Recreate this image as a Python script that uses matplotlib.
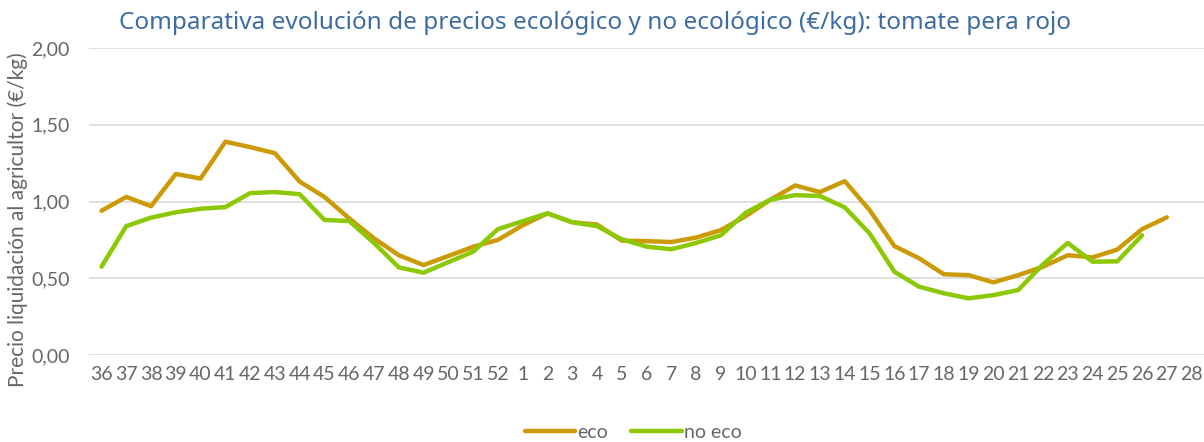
import matplotlib
matplotlib.use("Agg")
import matplotlib.pyplot as plt
from matplotlib.ticker import FuncFormatter, MultipleLocator

weeks = [str(w) for w in list(range(36, 53)) + list(range(1, 29))]

eco = [0.94, 1.03, 0.97, 1.18, 1.15, 1.39, 1.355, 1.315, 1.13, 1.03, 0.89, 0.76,
       0.65, 0.586, 0.645, 0.705, 0.75, 0.845, 0.923, 0.865, 0.85, 0.745, 0.742, 0.736,
       0.765, 0.814, 0.905, 1.012, 1.105, 1.062, 1.133, 0.945, 0.71, 0.63, 0.526,
       0.52, 0.473, 0.52, 0.575, 0.65, 0.636, 0.687, 0.82, 0.897]

no_eco = [0.575, 0.84, 0.895, 0.93, 0.953, 0.964, 1.055, 1.062, 1.048, 0.88, 0.873, 0.73,
          0.571, 0.536, 0.605, 0.673, 0.82, 0.872, 0.923, 0.865, 0.84, 0.754, 0.706, 0.689,
          0.73, 0.78, 0.927, 1.012, 1.042, 1.036, 0.962, 0.793, 0.543, 0.445, 0.402,
          0.369, 0.39, 0.423, 0.59, 0.73, 0.608, 0.61, 0.78]

title = "Comparativa evolución de precios ecológico y no ecológico (€/kg): tomate pera rojo"
ylabel = "Precio liquidación al agricultor (€/kg)"

FONT = ["Lato", "DejaVu Sans"]
plt.rcParams["font.family"] = FONT

fig = plt.figure(figsize=(12.04, 4.42), dpi=100)
ax = fig.add_axes([0.074, 0.197, 0.926, 0.694])

x_eco = list(range(len(eco)))
x_no = list(range(len(no_eco)))
ax.plot(x_eco, eco, color="#CC9A06", lw=3.2, solid_capstyle="round", label="eco", zorder=3)
ax.plot(x_no, no_eco, color="#8DC805", lw=3.2, solid_capstyle="round", label="no eco", zorder=3)

ax.set_xlim(-0.5, len(weeks) - 0.5)
ax.set_ylim(0, 2.0)
ax.set_xticks(range(len(weeks)))
ax.set_xticklabels(weeks)
ax.yaxis.set_major_locator(MultipleLocator(0.5))
ax.yaxis.set_major_formatter(FuncFormatter(lambda v, p: f"{v:.2f}".replace(".", ",")))
ax.grid(axis="y", color="#D9D9D9", lw=1.2)
ax.set_axisbelow(True)
for s in ax.spines.values():
    s.set_visible(False)
ax.tick_params(axis="both", length=0, colors="#666666", labelsize=14)
ax.tick_params(axis="x", pad=8)
ax.tick_params(axis="y", pad=14)

fig.text(0.015, 0.504, ylabel, rotation=90, ha="center", va="center", color="#666666", fontsize=15)
fig.text(0.494, 0.947, title, ha="center", va="center", color="#3D6BA3", fontsize=17.5,
         family=["Noto Sans", "DejaVu Sans"])

leg = fig.legend(loc="center", bbox_to_anchor=(0.526, 0.022), ncol=2, frameon=False,
                 fontsize=14, handlelength=2.6, handletextpad=0.1, columnspacing=1.2,
                 labelcolor="#666666")

fig.savefig("out.png", dpi=100)
